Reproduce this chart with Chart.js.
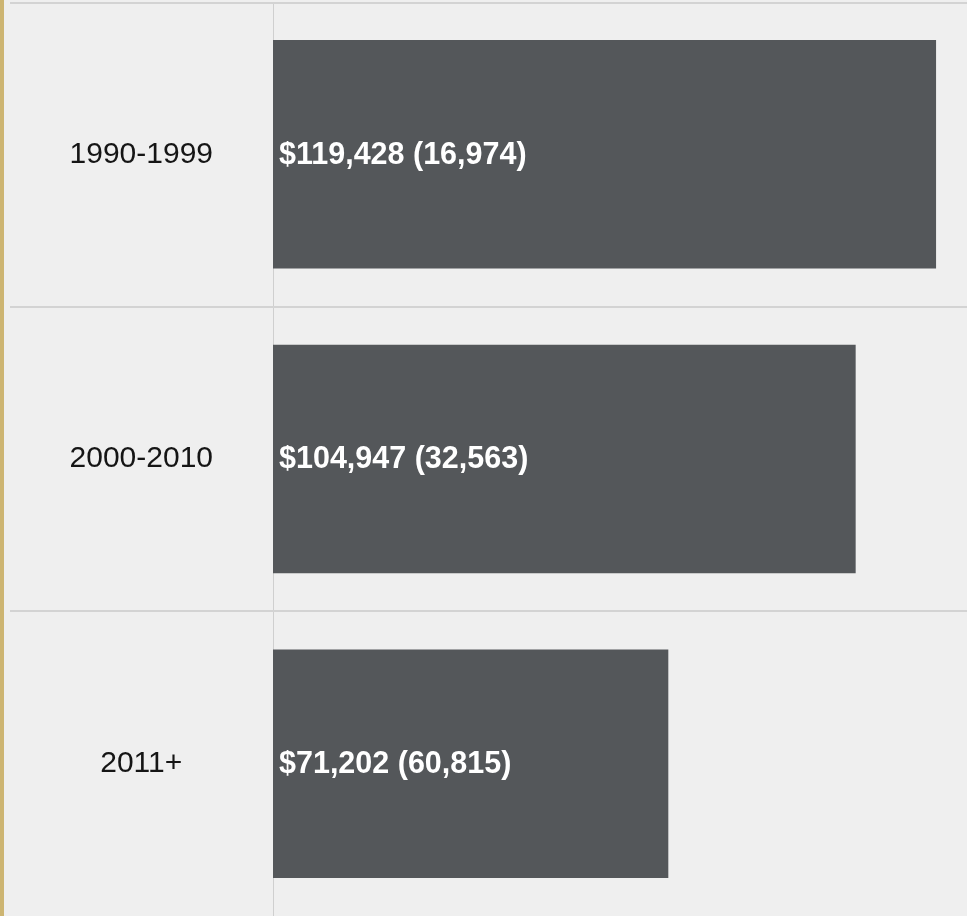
<!DOCTYPE html>
<html>
<head>
<meta charset="utf-8">
<script src="https://cdn.jsdelivr.net/npm/chart.js@4"></script>
<style>
  html, body { margin: 0; padding: 0; background: #efefef; overflow: hidden; }
  #wrap { position: absolute; left: 0; top: 0; width: 967px; height: 916px; }
  #stripe { position: absolute; left: 0; top: 0; width: 4px; height: 916px; background: #cdb572; }
</style>
</head>
<body>
<div id="wrap"><canvas id="c" width="967" height="916"></canvas></div>
<div id="stripe"></div>
<script>
const categories = ['1990-1999', '2000-2010', '2011+'];
const salaries = [119428, 104947, 71202];
const counts = [16974, 32563, 60815];
const axisMax = 125000;

Chart.defaults.font.family = "'Liberation Sans', Arial, sans-serif";

function fmt(n) { return n.toLocaleString('en-US'); }

const separators = {
  id: 'separators',
  beforeDatasetsDraw(chart) {
    const ctx = chart.ctx, y = chart.scales.y;
    const n = categories.length;
    const lines = [y.top + 1];
    for (let i = 1; i < n; i++) lines.push((y.getPixelForValue(i - 1) + y.getPixelForValue(i)) / 2);
    ctx.save();
    ctx.strokeStyle = '#d3d3d3';
    ctx.lineWidth = 2;
    lines.forEach(py => {
      ctx.beginPath();
      ctx.moveTo(10, Math.round(py));
      ctx.lineTo(chart.width, Math.round(py));
      ctx.stroke();
    });
    ctx.restore();
  }
};

const barLabels = {
  id: 'barLabels',
  afterDatasetsDraw(chart) {
    const ctx = chart.ctx;
    const meta = chart.getDatasetMeta(0);
    ctx.save();
    ctx.fillStyle = '#ffffff';
    ctx.font = "bold 30.5px 'Liberation Sans', Arial, sans-serif";
    ctx.textAlign = 'left';
    ctx.textBaseline = 'middle';
    meta.data.forEach((bar, i) => {
      ctx.fillText('$' + fmt(salaries[i]) + ' (' + fmt(counts[i]) + ')', bar.base + 6, bar.y + 1);
    });
    ctx.restore();
  }
};

new Chart(document.getElementById('c'), {
  type: 'bar',
  data: {
    labels: categories,
    datasets: [{
      data: salaries,
      backgroundColor: '#54575a',
      borderWidth: 0,
      barPercentage: 0.75,
      categoryPercentage: 1.0
    }]
  },
  options: {
    indexAxis: 'y',
    responsive: false,
    animation: false,
    layout: { padding: { left: 10, top: 2, right: 0, bottom: 0 } },
    plugins: { legend: { display: false }, tooltip: { enabled: false } },
    scales: {
      x: { display: false, min: 0, max: axisMax },
      y: {
        afterFit(scale) { scale.width = 263; scale.paddingTop = 0; scale.paddingBottom = 0; },
        grid: { display: false, drawTicks: false },
        border: { display: true, color: '#cfcfcf', width: 1, dash: [2, 3] },
        ticks: {
          color: '#151515',
          font: { size: 30 },
          crossAlign: 'center',
          padding: 60
        }
      }
    }
  },
  plugins: [separators, barLabels]
});
</script>
</body>
</html>
